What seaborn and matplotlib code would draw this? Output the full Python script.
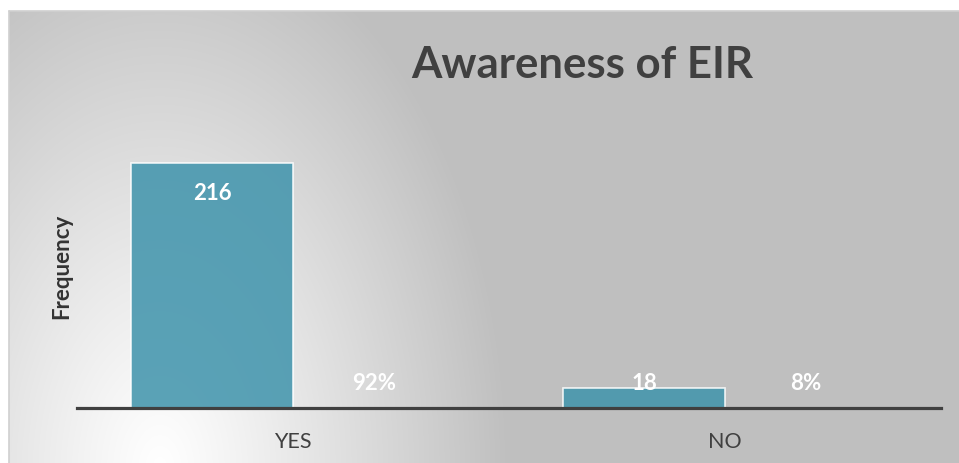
import numpy as np
import pandas as pd
import matplotlib
matplotlib.use("Agg")
import matplotlib.pyplot as plt
import seaborn as sns

# Survey responses
responses = ["YES", "NO"]
frequency = [216, 18]
share = [0.92, 0.08]

df = pd.DataFrame({
    "Response": responses * 2,
    "Value": frequency + share,
    "Series": ["Frequency"] * 2 + ["Percent"] * 2,
})

sns.set_theme(style="white")
plt.rcParams["font.family"] = ["Lato", "DejaVu Sans"]

W, H, DPI = 959, 463, 100
fig = plt.figure(figsize=(W / DPI, H / DPI), dpi=DPI)
fig.patch.set_facecolor("white")

# Chart area with a soft radial fill (white at lower left fading to grey)
x0, y0 = 9, 11
bg = fig.add_axes([x0 / W, 0, 1 - x0 / W, (H - y0) / H])
xs = np.arange(x0, W) + 0.5
ys = np.arange(y0, H) + 0.5
X, Y = np.meshgrid(xs, ys)
r = np.sqrt(((X - 160) / 350) ** 2 + ((Y - 470) / 560) ** 2)
r = np.clip(r, 0, 1)
shade = 255 - (255 - 191) * r ** 1.1
img = np.dstack([shade, shade, shade]) / 255.0
bg.imshow(img, aspect="auto", interpolation="bilinear")
bg.set_axis_off()
fig.add_artist(plt.Line2D([x0 / W, 1], [1 - y0 / H, 1 - y0 / H],
                          transform=fig.transFigure, color="#d0d0d0", lw=1.2))
fig.add_artist(plt.Line2D([x0 / W, x0 / W], [0, 1 - y0 / H],
                          transform=fig.transFigure, color="#d0d0d0", lw=1.2))

# Plot area
left, right = 77 / W, 941 / W
bottom = 1 - 408 / H
ax = fig.add_axes([left, bottom, right - left, 283.6 / H])
ax.set_facecolor("none")

bar_color = "#4094ac"
sns.barplot(data=df, x="Response", y="Value", hue="Series",
            palette=[bar_color, bar_color], width=0.748, gap=0,
            legend=False, ax=ax, saturation=1)

for i, cont in enumerate(ax.containers):
    for patch in cont:
        patch.set_alpha(0.86)
        if i == 0:
            patch.set_edgecolor("white")
            patch.set_linewidth(1.2)
        else:
            patch.set_edgecolor("none")

ax.set_ylim(0, 250)

# Value labels
for i, cont in enumerate(ax.containers):
    for patch, v in zip(cont, cont.datavalues):
        cx = patch.get_x() + patch.get_width() / 2
        ypos = max(v - 26.5, 21.2)
        txt = f"{int(v)}" if i == 0 else f"{v:.0%}"
        ax.text(cx, ypos, txt, ha="center", va="center", color="white",
                fontsize=16, fontweight="bold")

sns.despine(ax=ax, left=True, top=True, right=True)
ax.spines["bottom"].set_color("#404040")
ax.spines["bottom"].set_linewidth(2.3)
ax.set_yticks([])
ax.tick_params(axis="x", length=0, pad=17, labelsize=15.5, labelcolor="#404040")
ax.set_xlabel("")
ax.set_ylabel("")

fig.text(62 / W, 1 - 266 / H, "Frequency", rotation=90, ha="center",
         va="center", fontsize=16, fontweight="bold", color="#333333")
fig.text(582 / W, 1 - 78 / H, "Awareness of EIR", ha="center", va="baseline",
         fontsize=31.5, fontweight="bold", color="#404040")

fig.savefig("out.png", dpi=DPI)
